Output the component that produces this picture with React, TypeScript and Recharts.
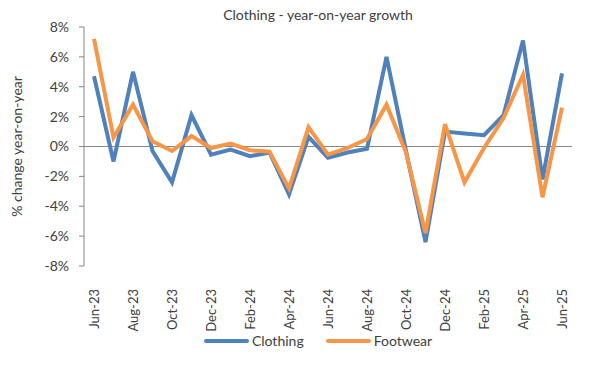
import { LineChart, Line, XAxis, YAxis, ReferenceLine, Legend } from "recharts";

const months = [
  "Jun-23", "Jul-23", "Aug-23", "Sep-23", "Oct-23", "Nov-23", "Dec-23",
  "Jan-24", "Feb-24", "Mar-24", "Apr-24", "May-24", "Jun-24", "Jul-24",
  "Aug-24", "Sep-24", "Oct-24", "Nov-24", "Dec-24", "Jan-25", "Feb-25",
  "Mar-25", "Apr-25", "May-25", "Jun-25",
];

const clothing = [
  4.7, -1.0, 5.0, -0.3, -2.4, 2.1, -0.55, -0.2, -0.65, -0.4, -3.2, 0.65,
  -0.75, -0.4, -0.15, 6.0, -0.3, -6.4, 1.0, 0.87, 0.76, 2.1, 7.1, -2.2, 4.9,
];

const footwear = [
  7.2, 0.6, 2.8, 0.35, -0.3, 0.7, -0.1, 0.2, -0.25, -0.35, -2.8, 1.3,
  -0.55, -0.1, 0.5, 2.8, -0.4, -5.8, 1.5, -2.4, -0.1, 1.9, 4.8, -3.4, 2.6,
];

const yTicks = [-8, -6, -4, -2, 0, 2, 4, 6, 8];

const BLUE = "#4f81bd";
const ORANGE = "#f79646";
const AXIS = "#868686";
const FONT = "Lato, 'Open Sans', sans-serif";

const data = months.map((m, i) => ({
  month: m,
  clothing: clothing[i],
  footwear: footwear[i],
}));

// rotated month labels, reading bottom to top
function MonthTick({ x, y, payload }: any) {
  return (
    <text
      x={x}
      y={y + 15}
      transform={`rotate(-90, ${x}, ${y + 15})`}
      textAnchor="end"
      dy="0.35em"
      fontSize={13}
      fill="#404040"
      fontFamily={FONT}
    >
      {payload.value}
    </text>
  );
}

function LegendBox() {
  const items = [
    { name: "Clothing", color: BLUE },
    { name: "Footwear", color: ORANGE },
  ];
  return (
    <div style={{ display: "flex", justifyContent: "center", gap: 22, paddingLeft: 36, fontFamily: FONT, fontSize: 14, color: "#404040" }}>
      {items.map((it) => (
        <div key={it.name} style={{ display: "flex", alignItems: "center", gap: 3 }}>
          <svg width={45} height={10}>
            <line x1={2} y1={5} x2={43} y2={5} stroke={it.color} strokeWidth={4} strokeLinecap="round" />
          </svg>
          <span>{it.name}</span>
        </div>
      ))}
    </div>
  );
}

export default function App() {
  return (
    <div style={{ position: "absolute", left: 0, top: 0, width: 600, height: 375, background: "#fff" }}>
      <div
        style={{
          position: "absolute",
          top: 6,
          left: 0,
          width: 636,
          textAlign: "center",
          fontFamily: FONT,
          fontSize: 14,
          color: "#404040",
        }}
      >
        Clothing - year-on-year growth
      </div>
      <LineChart
        width={600}
        height={375}
        data={data}
        margin={{ top: 27, right: 28, left: 0, bottom: 0 }}
      >
        <XAxis
          dataKey="month"
          interval={1}
          tick={<MonthTick />}
          tickLine={false}
          axisLine={false}
          padding={{ left: 10, right: 10 }}
          height={92}
        />
        <YAxis
          width={84}
          domain={[-8, 8]}
          ticks={yTicks}
          tickFormatter={(v) => `${v}%`}
          tick={{ fontSize: 14, fill: "#404040", fontFamily: FONT }}
          tickSize={5}
          tickMargin={10}
          stroke={AXIS}
          label={{
            value: "% change year-on-year",
            angle: -90,
            position: "insideLeft",
            offset: 17,
            style: { textAnchor: "middle", fontSize: 14, fill: "#404040", fontFamily: FONT },
          }}
        />
        <ReferenceLine y={0} stroke={AXIS} strokeWidth={1} />
        <Line
          dataKey="clothing"
          name="Clothing"
          stroke={BLUE}
          strokeWidth={4}
          dot={false}
          type="linear"
          isAnimationActive={false}
        />
        <Line
          dataKey="footwear"
          name="Footwear"
          stroke={ORANGE}
          strokeWidth={4}
          dot={false}
          type="linear"
          isAnimationActive={false}
        />
        <Legend content={<LegendBox />} wrapperStyle={{ left: 0, width: 600, top: 332 }} />
      </LineChart>
    </div>
  );
}
